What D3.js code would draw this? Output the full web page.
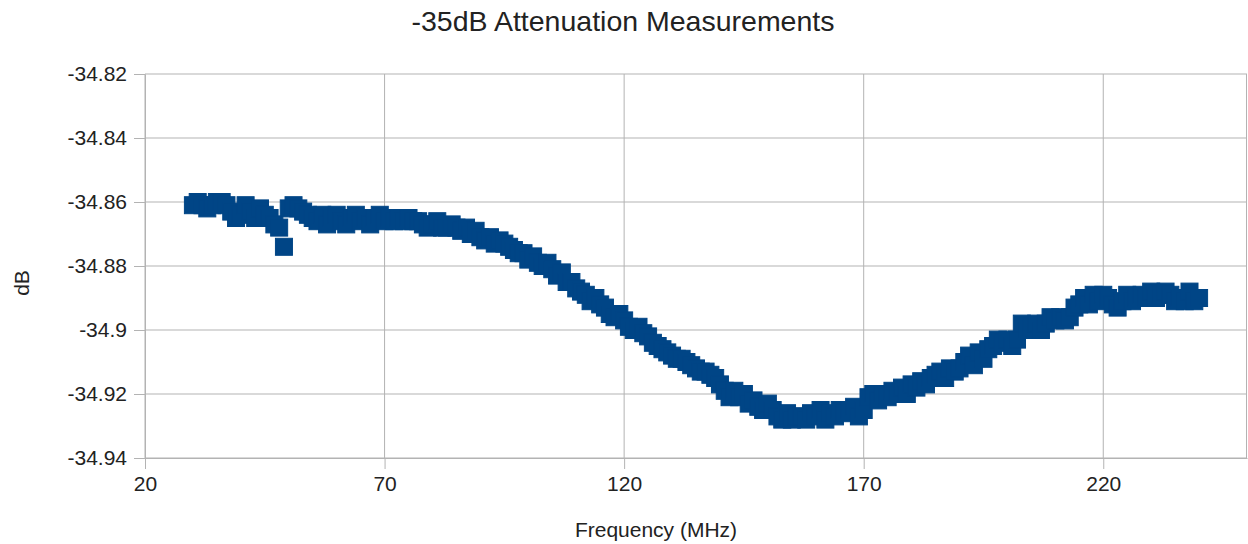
<!DOCTYPE html>
<meta charset="utf-8">
<script src="https://d3js.org/d3.v7.min.js"></script>
<style>
  body { margin: 0; background: #fff; }
  text { font-family: "Liberation Sans", Arial, sans-serif; fill: #222; }
</style>
<svg id="chart" width="1248" height="544"></svg>
<script>

// frequency sweep (MHz)
var freqs = [
  30,31,32,33,34,35,36,37,38,39,40,41,42,43,44,45,46,47,48,49,
  50,51,52,53,54,55,56,57,58,59,60,61,62,63,64,65,66,67,68,69,
  70,71,72,73,74,75,76,77,78,79,80,81,82,83,84,85,86,87,88,89,
  90,91,92,93,94,95,96,97,98,99,100,101,102,103,104,105,106,107,108,109,
  110,111,112,113,114,115,116,117,118,119,120,121,122,123,124,125,126,127,128,129,
  130,131,132,133,134,135,136,137,138,139,140,141,142,143,144,145,146,147,148,149,
  150,151,152,153,154,155,156,157,158,159,160,161,162,163,164,165,166,167,168,169,
  170,171,172,173,174,175,176,177,178,179,180,181,182,183,184,185,186,187,188,189,
  190,191,192,193,194,195,196,197,198,199,200,201,202,203,204,205,206,207,208,209,
  210,211,212,213,214,215,216,217,218,219,220,221,222,223,224,225,226,227,228,229,
  230,231,232,233,234,235,236,237,238,239,240
];

// measured attenuation (dB)
var attenuation = [
  -34.861,-34.860,-34.861,-34.862,-34.861,-34.860,-34.860,-34.861,-34.863,-34.865,
  -34.864,-34.861,-34.863,-34.865,-34.862,-34.864,-34.865,-34.867,-34.868,-34.874,
  -34.862,-34.861,-34.862,-34.863,-34.864,-34.865,-34.866,-34.864,-34.867,-34.865,
  -34.864,-34.866,-34.867,-34.865,-34.864,-34.866,-34.865,-34.867,-34.865,-34.864,
  -34.866,-34.865,-34.866,-34.865,-34.866,-34.865,-34.866,-34.866,-34.867,-34.868,
  -34.867,-34.866,-34.868,-34.868,-34.867,-34.868,-34.869,-34.868,-34.870,-34.869,
  -34.871,-34.872,-34.871,-34.873,-34.872,-34.873,-34.874,-34.875,-34.876,-34.876,
  -34.878,-34.877,-34.879,-34.880,-34.879,-34.881,-34.883,-34.882,-34.885,-34.885,
  -34.887,-34.888,-34.889,-34.891,-34.890,-34.892,-34.893,-34.895,-34.896,-34.895,
  -34.897,-34.899,-34.900,-34.899,-34.901,-34.902,-34.904,-34.905,-34.906,-34.907,
  -34.908,-34.909,-34.909,-34.910,-34.911,-34.912,-34.913,-34.913,-34.914,-34.915,
  -34.917,-34.919,-34.921,-34.919,-34.921,-34.920,-34.923,-34.922,-34.924,-34.925,
  -34.923,-34.925,-34.927,-34.928,-34.926,-34.928,-34.927,-34.927,-34.928,-34.926,
  -34.927,-34.925,-34.928,-34.926,-34.927,-34.925,-34.926,-34.925,-34.924,-34.927,
  -34.925,-34.921,-34.920,-34.922,-34.920,-34.921,-34.919,-34.920,-34.918,-34.920,
  -34.917,-34.918,-34.916,-34.917,-34.915,-34.914,-34.913,-34.915,-34.912,-34.913,
  -34.912,-34.910,-34.908,-34.911,-34.907,-34.909,-34.906,-34.905,-34.903,-34.904,
  -34.903,-34.905,-34.903,-34.898,-34.900,-34.899,-34.898,-34.900,-34.898,-34.896,
  -34.897,-34.896,-34.897,-34.896,-34.893,-34.892,-34.890,-34.892,-34.889,-34.891,
  -34.889,-34.890,-34.892,-34.893,-34.891,-34.889,-34.891,-34.890,-34.889,-34.890,
  -34.888,-34.890,-34.889,-34.888,-34.889,-34.891,-34.890,-34.891,-34.888,-34.891,
  -34.890
];

var xTicks = [20, 70, 120, 170, 220];
var yTicks = [-34.82, -34.84, -34.86, -34.88, -34.9, -34.92, -34.94];

var svg = d3.select("#chart"),
    margin = {top: 74, right: 1, left: 145, bottom: 86},
    width = +svg.attr("width") - margin.left - margin.right,
    height = +svg.attr("height") - margin.top - margin.bottom;

var x = d3.scaleLinear().domain([20, 250]).range([0, width]);
var y = d3.scaleLinear().domain([-34.94, -34.82]).range([height, 0]);

var g = svg.append("g").attr("transform", "translate(" + margin.left + "," + margin.top + ")");

// grid
g.selectAll(".hgrid").data(yTicks).enter().append("line")
    .attr("x1", 0).attr("x2", width)
    .attr("y1", d => y(d)).attr("y2", d => y(d))
    .style("stroke", "#b3b3b3");
g.selectAll(".vgrid").data(xTicks).enter().append("line")
    .attr("x1", d => x(d)).attr("x2", d => x(d))
    .attr("y1", 0).attr("y2", height)
    .style("stroke", "#b3b3b3");
g.append("line")
    .attr("x1", width - 0.5).attr("x2", width - 0.5)
    .attr("y1", 0).attr("y2", height)
    .style("stroke", "#b3b3b3");

// axes
var yAxis = g.append("g")
    .call(d3.axisLeft(y).tickValues(yTicks).tickSize(11).tickSizeOuter(0).tickPadding(7).tickFormat(d => String(d)));
var xAxis = g.append("g")
    .attr("transform", "translate(0," + height + ")")
    .call(d3.axisBottom(x).tickValues(xTicks).tickSize(11).tickSizeOuter(0).tickPadding(7));
[xAxis, yAxis].forEach(function(a) {
    a.select(".domain").style("stroke", "#b3b3b3");
    a.selectAll(".tick line").style("stroke", "#b3b3b3");
    a.selectAll(".tick text").style("font-size", "21px").style("fill", "#222")
        .style("font-family", "'Liberation Sans', Arial, sans-serif");
});

// points
var pts = freqs.map((f, i) => [f, attenuation[i]]);
g.append("g").selectAll("rect").data(pts).enter().append("rect")
    .attr("x", d => x(d[0]) - 8.5)
    .attr("y", d => y(d[1]) - 8.5)
    .attr("width", 17).attr("height", 17)
    .style("fill", "#004586")
    .style("stroke", "#004586")
    .style("stroke-width", 1);

// titles
svg.append("text")
    .attr("x", 623).attr("y", 31)
    .attr("text-anchor", "middle")
    .style("font-size", "28.5px")
    .text("-35dB Attenuation Measurements");

svg.append("text")
    .attr("x", 656).attr("y", 537)
    .attr("text-anchor", "middle")
    .style("font-size", "21px")
    .text("Frequency (MHz)");

svg.append("text")
    .attr("transform", "translate(29,283) rotate(-90)")
    .attr("text-anchor", "middle")
    .style("font-size", "21px")
    .text("dB");

</script>
